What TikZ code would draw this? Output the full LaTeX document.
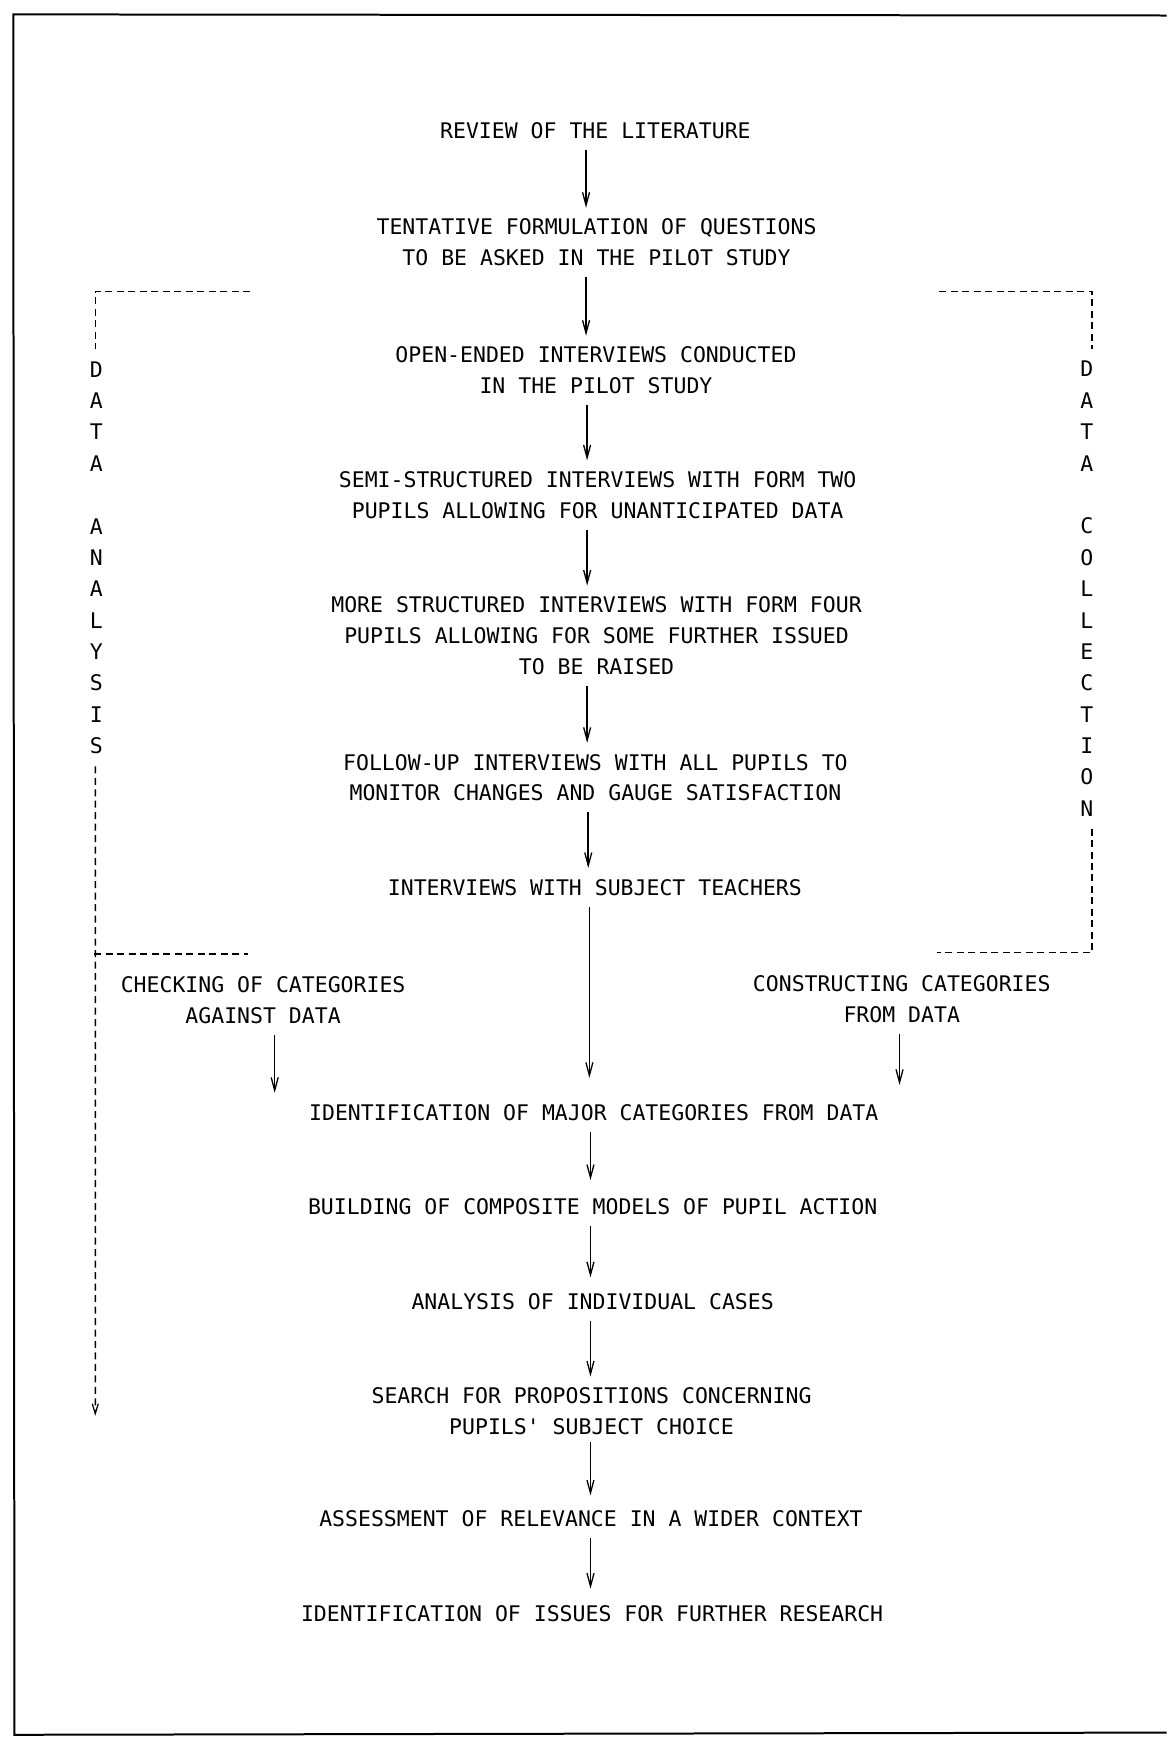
\documentclass[tikz,border=0pt]{standalone}
\usepackage{fontspec}
\newfontfamily\plotfont{DejaVu Sans Mono}
\usetikzlibrary{arrows.meta}
\begin{document}
\begin{tikzpicture}[x=1.1083pt,y=-1.1083pt,
  lbl/.style={font=\plotfont\fontsize{21.5}{31}\selectfont, align=center, inner xsep=0pt, inner ysep=11pt},
  vlbl/.style={font=\plotfont\fontsize{21.5}{31.4}\selectfont, align=center, inner xsep=0pt, inner ysep=12pt},
  arr/.style={line width=1.6pt, -{Straight Barb[length=13pt,width=7pt,line width=1.3pt]}},
  dsh/.style={line width=1.5pt, dash pattern=on 7pt off 4.5pt},
  frame/.style={line width=2pt}]
\useasboundingbox[fill=white] (0,0) rectangle (1053,1568);
% frame
\draw[frame] (1053,14) -- (12,13) -- (13,1566) -- (1053,1564);

% main nodes
\node[lbl] (n1) at (537.5,118) {REVIEW OF THE LITERATURE};
\node[lbl] (n2) at (538.5,219) {TENTATIVE FORMULATION OF QUESTIONS\\TO BE ASKED IN THE PILOT STUDY};
\node[lbl] (n3) at (538,334.5) {OPEN-ENDED INTERVIEWS CONDUCTED\\IN THE PILOT STUDY};
\node[lbl] (n4) at (539.5,447) {SEMI-STRUCTURED INTERVIEWS WITH FORM TWO\\PUPILS ALLOWING FOR UNANTICIPATED DATA};
\node[lbl] (n5) at (538.5,574) {MORE STRUCTURED INTERVIEWS WITH FORM FOUR\\PUPILS ALLOWING FOR SOME FURTHER ISSUED\\TO BE RAISED};
\node[lbl] (n6) at (537.5,702) {FOLLOW-UP INTERVIEWS WITH ALL PUPILS TO\\MONITOR CHANGES AND GAUGE SATISFACTION};
\node[lbl] (n7) at (537,801) {INTERVIEWS WITH SUBJECT TEACHERS};
\node[lbl] (n8) at (237.5,903) {CHECKING OF CATEGORIES\\AGAINST DATA};
\node[lbl] (n9) at (814,902) {CONSTRUCTING CATEGORIES\\FROM DATA};
\node[lbl] (n10) at (536,1004) {IDENTIFICATION OF MAJOR CATEGORIES FROM DATA};
\node[lbl] (n11) at (535,1089) {BUILDING OF COMPOSITE MODELS OF PUPIL ACTION};
\node[lbl] (n12) at (535,1175) {ANALYSIS OF INDIVIDUAL CASES};
\node[lbl] (n13) at (534,1274) {SEARCH FOR PROPOSITIONS CONCERNING\\PUPILS' SUBJECT CHOICE};
\node[lbl] (n14) at (533.5,1371) {ASSESSMENT OF RELEVANCE IN A WIDER CONTEXT};
\node[lbl] (n15) at (534.5,1457) {IDENTIFICATION OF ISSUES FOR FURTHER RESEARCH};

% side labels
\node[vlbl] (dal) at (87,503.5) {D\\A\\T\\A\\\mbox{}\\A\\N\\A\\L\\Y\\S\\I\\S};
\node[vlbl] (dcr) at (981,531.5) {D\\A\\T\\A\\\mbox{}\\C\\O\\L\\L\\E\\C\\T\\I\\O\\N};

% arrows
\draw[arr] ([xshift=-9.4pt]n1.south) -- ([xshift=-9.4pt]n1.south |- n2.north);
\draw[arr] ([xshift=-10.5pt]n2.south) -- ([xshift=-10.5pt]n2.south |- n3.north);
\draw[arr] ([xshift=-8.9pt]n3.south) -- ([xshift=-8.9pt]n3.south |- n4.north);
\draw[arr] ([xshift=-10.5pt]n4.south) -- ([xshift=-10.5pt]n4.south |- n5.north);
\draw[arr] ([xshift=-9.4pt]n5.south) -- ([xshift=-9.4pt]n5.south |- n6.north);
\draw[arr] ([xshift=-7.2pt]n6.south) -- ([xshift=-7.2pt]n6.south |- n7.north);
\draw[arr, shorten >=15pt] ([xshift=-5.5pt]n7.south) -- ([xshift=-5.5pt]n7.south |- n10.north);
\draw[arr] ([xshift=11.6pt]n8.south) -- ([xshift=11.6pt]n8.south |- n10.north);
\draw[arr, shorten >=8pt] ([xshift=-2.2pt]n9.south) -- ([xshift=-2.2pt]n9.south |- n10.north);
\draw[arr, shorten >=7pt] ([xshift=-3.3pt]n10.south) -- ([xshift=-3.3pt]n10.south |- n11.north);
\draw[arr, shorten >=5pt] ([xshift=-2.2pt]n11.south) -- ([xshift=-2.2pt]n11.south |- n12.north);
\draw[arr] ([xshift=-2.2pt]n12.south) -- ([xshift=-2.2pt]n12.south |- n13.north);
\draw[arr, shorten <=-4pt, shorten >=4pt] ([xshift=-1.1pt]n13.south) -- ([xshift=-1.1pt]n13.south |- n14.north);
\draw[arr, shorten >=6pt] ([xshift=-0.5pt]n14.south) -- ([xshift=-0.5pt]n14.south |- n15.north);

% dashed brackets, left
\coordinate (lt) at (226,263);
\coordinate (lm1) at (85,861);
\coordinate (lm2) at (224,861);
\coordinate (lb) at (86,1278);
\draw[dsh] (lt) -| ([xshift=-1pt]dal.north);
\draw[dsh, -{Straight Barb[length=10pt,width=6pt,line width=1.2pt]}] ([xshift=-1pt]dal.south) -- (lb);
\draw[dsh] (lm1) -- (lm2);

% dashed brackets, right
\coordinate (rt) at (848,263);
\coordinate (rb) at (846,860);
\draw[dsh] (rt) -| ([xshift=5.5pt]dcr.north);
\draw[dsh] ([xshift=5.5pt]dcr.south) |- (rb);
\end{tikzpicture}
\end{document}
